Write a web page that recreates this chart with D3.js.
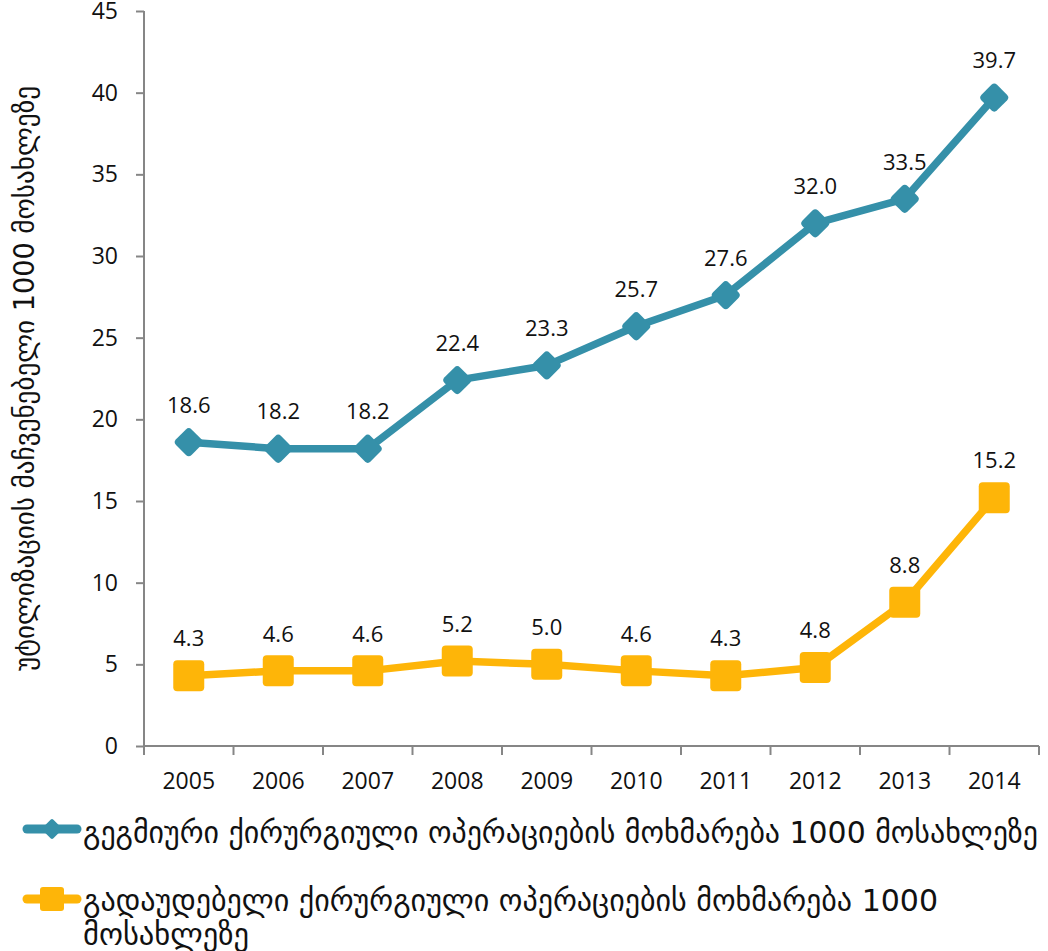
<!DOCTYPE html>
<html>
<head>
<meta charset="utf-8">
<script src="https://cdn.jsdelivr.net/npm/d3@7"></script>
<style>
  body { margin: 0; background: #fff; }
  #chart svg { display: block; }
</style>
</head>
<body>
<div id="chart"></div>
<script>
// ------------- Data ----------------- //
const years = ['2005', '2006', '2007', '2008', '2009', '2010', '2011', '2012', '2013', '2014'];
const plannedValues = [18.6, 18.2, 18.2, 22.4, 23.3, 25.7, 27.6, 32.0, 33.5, 39.7];
const emergencyValues = [4.3, 4.6, 4.6, 5.2, 5.0, 4.6, 4.3, 4.8, 8.8, 15.2];
const yTicks = [0, 5, 10, 15, 20, 25, 30, 35, 40, 45];
const yTitle = 'უტილიზაციის მაჩვენებელი 1000 მოსახლეზე';
const plannedName = 'გეგმიური ქირურგიული ოპერაციების მოხმარება 1000 მოსახლეზე';
const emergencyName = ['გადაუდებელი ქირურგიული ოპერაციების მოხმარება 1000', 'მოსახლეზე'];

const blue = '#3590a9';
const orange = '#feb508';
const axisColor = '#868686';
const numFont = '"Open Sans", sans-serif';
const geoFont = '"DejaVu Sans Condensed", "DejaVu Sans", sans-serif';

const width = 1048, height = 951;
const margin = { top: 11, right: 9, bottom: 205, left: 144 };

const svg = d3.select('#chart')
  .append('svg')
  .attr('width', width)
  .attr('height', height);

// scales
const x = d3.scaleBand().domain(years).range([margin.left, width - margin.right]).padding(0);
const cx = (d) => x(d) + x.bandwidth() / 2;
const y = d3.scaleLinear().domain([0, 45]).range([height - margin.bottom, margin.top]);

// y axis
const yAxis = svg.append('g')
  .attr('transform', 'translate(' + margin.left + ',0)')
  .call(d3.axisLeft(y).tickValues(yTicks).tickSize(8).tickSizeOuter(0).tickPadding(18));
yAxis.select('.domain').remove();
yAxis.selectAll('.tick line').attr('stroke', axisColor).attr('stroke-width', 2);
yAxis.selectAll('.tick text')
  .attr('font-family', numFont)
  .attr('font-size', 23)
  .attr('fill', '#111');

svg.append('line')
  .attr('x1', margin.left).attr('x2', margin.left)
  .attr('y1', y(45)).attr('y2', y(0) + 9)
  .attr('stroke', axisColor).attr('stroke-width', 2);

// x axis
const xAxis = svg.append('g')
  .attr('transform', 'translate(0,' + y(0) + ')')
  .call(d3.axisBottom(x).tickSize(0).tickPadding(27));
xAxis.select('.domain').remove();
xAxis.selectAll('.tick text')
  .attr('font-family', numFont)
  .attr('font-size', 23)
  .attr('fill', '#111');

svg.append('line')
  .attr('x1', margin.left).attr('x2', width - margin.right)
  .attr('y1', y(0)).attr('y2', y(0))
  .attr('stroke', axisColor).attr('stroke-width', 2);

// category separators under the axis
svg.append('g')
  .selectAll('line')
  .data(years.slice(1).concat(['end']))
  .join('line')
  .attr('x1', (d) => (d === 'end' ? width - margin.right : x(d)))
  .attr('x2', (d) => (d === 'end' ? width - margin.right : x(d)))
  .attr('y1', y(0))
  .attr('y2', y(0) + 9)
  .attr('stroke', axisColor)
  .attr('stroke-width', 2);

// y title
svg.append('text')
  .attr('transform', 'translate(34,' + (y(0) + y(45)) / 2 + ') rotate(-90)')
  .attr('text-anchor', 'middle')
  .attr('font-family', geoFont)
  .attr('font-size', 28)
  .attr('textLength', 585)
  .attr('lengthAdjust', 'spacingAndGlyphs')
  .attr('fill', '#111')
  .text(yTitle);

// ------------- Series ----------------- //
function drawSeries(values, color, marker) {
  const pts = years.map((d, i) => ({ year: d, value: values[i] }));
  const g = svg.append('g');

  g.append('path')
    .datum(pts)
    .attr('fill', 'none')
    .attr('stroke', color)
    .attr('stroke-width', 7.5)
    .attr('stroke-linejoin', 'round')
    .attr('d', d3.line().x((d) => cx(d.year)).y((d) => y(d.value)));

  const s = marker === 'diamond' ? 22 : 31;
  g.selectAll('rect')
    .data(pts)
    .join('rect')
    .attr('x', -s / 2).attr('y', -s / 2)
    .attr('width', s).attr('height', s)
    .attr('rx', 4)
    .attr('fill', color)
    .attr('transform', (d) => 'translate(' + cx(d.year) + ',' + y(d.value) + ')' + (marker === 'diamond' ? ' rotate(45)' : ''));

  g.selectAll('text')
    .data(pts)
    .join('text')
    .attr('x', (d) => cx(d.year))
    .attr('y', (d) => y(d.value) - 37)
    .attr('dy', '0.35em')
    .attr('text-anchor', 'middle')
    .attr('font-family', numFont)
    .attr('font-size', 22)
    .attr('fill', '#111')
    .text((d) => d3.format('.1f')(d.value));
}

drawSeries(plannedValues, blue, 'diamond');
drawSeries(emergencyValues, orange, 'square');

// ------------- Legend ----------------- //
const legend = svg.append('g');

legend.append('line')
  .attr('x1', 27).attr('x2', 77).attr('y1', 829).attr('y2', 829)
  .attr('stroke', blue).attr('stroke-width', 9).attr('stroke-linecap', 'round');
legend.append('rect')
  .attr('x', -7.5).attr('y', -7.5).attr('width', 15).attr('height', 15).attr('rx', 2)
  .attr('fill', blue)
  .attr('transform', 'translate(52,829) rotate(45)');
legend.append('text')
  .attr('x', 83).attr('y', 843)
  .attr('font-family', geoFont)
  .attr('font-size', 31)
  .attr('textLength', 955)
  .attr('lengthAdjust', 'spacingAndGlyphs')
  .attr('fill', '#111')
  .text(plannedName);

legend.append('line')
  .attr('x1', 27).attr('x2', 77).attr('y1', 899).attr('y2', 899)
  .attr('stroke', orange).attr('stroke-width', 9).attr('stroke-linecap', 'round');
legend.append('rect')
  .attr('x', 40).attr('y', 887).attr('width', 24).attr('height', 24).attr('rx', 3)
  .attr('fill', orange);
legend.append('text')
  .attr('x', 83).attr('y', 911)
  .attr('font-family', geoFont)
  .attr('font-size', 31)
  .attr('textLength', 855)
  .attr('lengthAdjust', 'spacingAndGlyphs')
  .attr('fill', '#111')
  .text(emergencyName[0]);
legend.append('text')
  .attr('x', 83).attr('y', 945)
  .attr('font-family', geoFont)
  .attr('font-size', 31)
  .attr('textLength', 166)
  .attr('lengthAdjust', 'spacingAndGlyphs')
  .attr('fill', '#111')
  .text(emergencyName[1]);
</script>
</body>
</html>
